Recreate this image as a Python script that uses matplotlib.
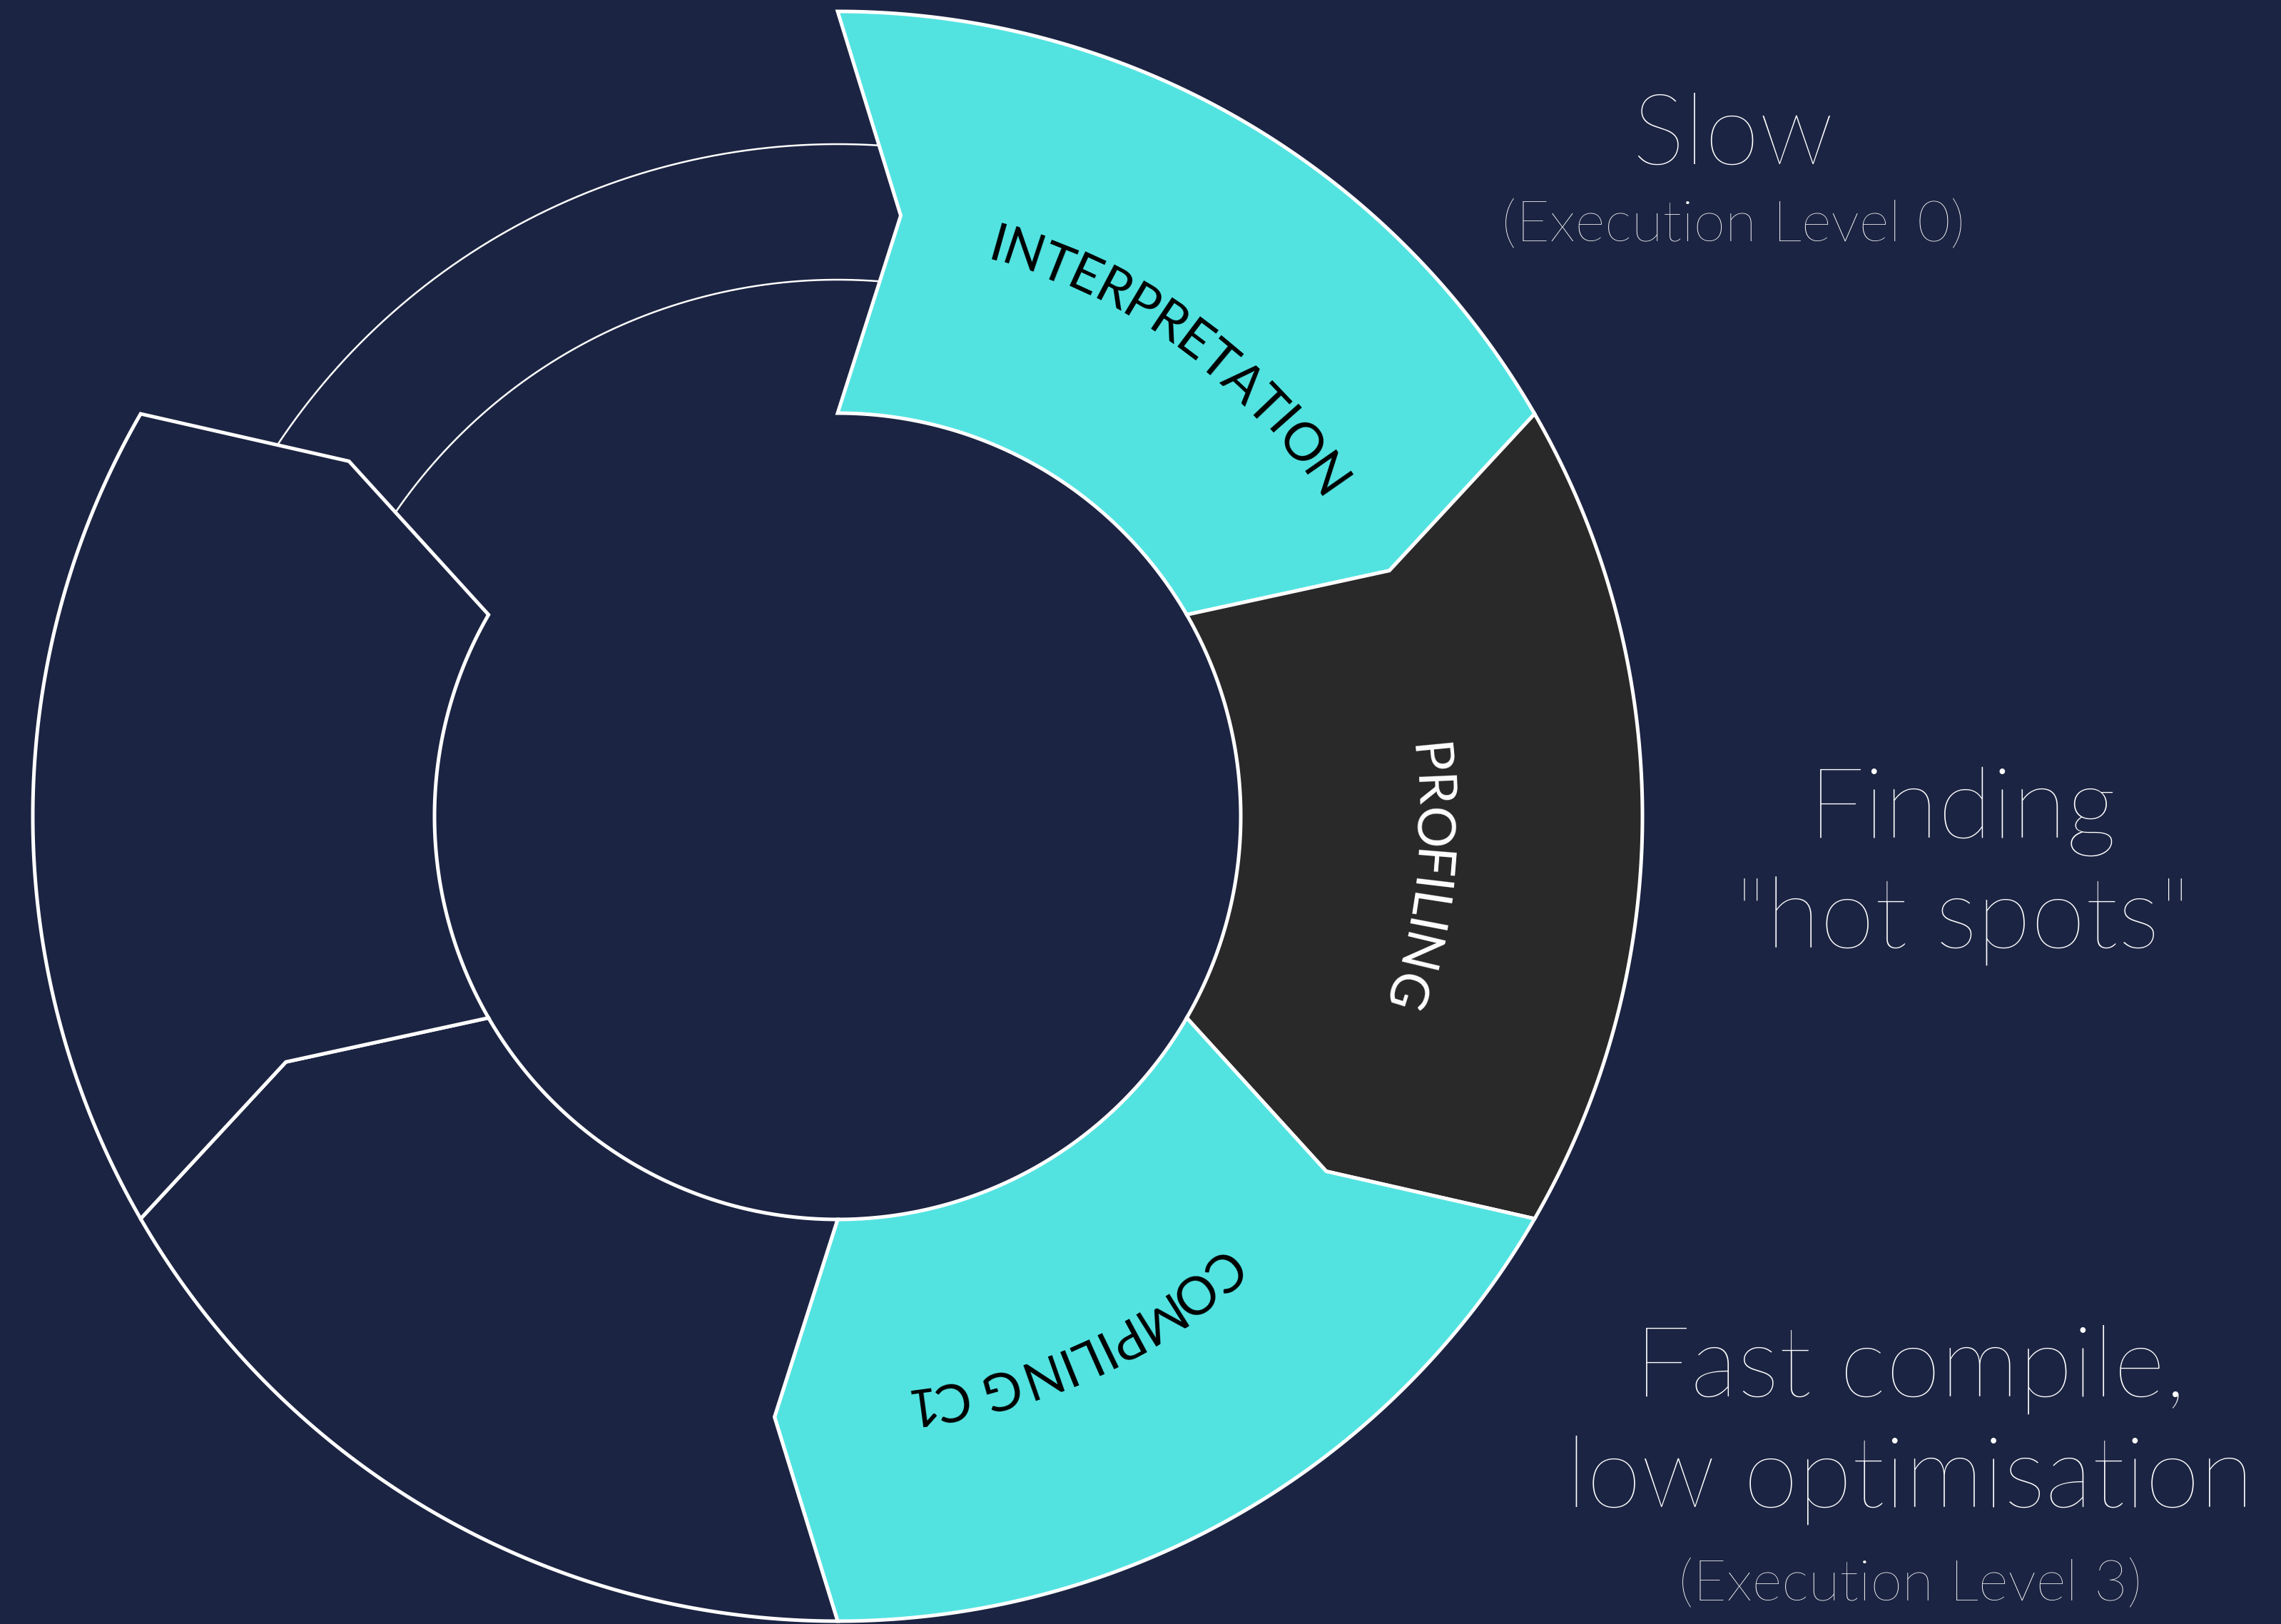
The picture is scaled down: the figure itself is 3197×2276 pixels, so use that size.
import numpy as np
import matplotlib.pyplot as plt
from matplotlib.patches import Polygon
from matplotlib.textpath import TextToPath
from matplotlib.font_manager import FontProperties

# stages of the ring, clockwise from the top
stage_names = ["INTERPRETATION", "PROFILING", "COMPILING C1", "", "", ""]
stage_share = [1, 1, 1, 1, 1, 1]
stage_colors = ["#52e3e1", "#292929", "#52e3e1", "#1b2442", "#1b2442", "#1b2442"]
label_colors = ["black", "white", "black", "white", "white", "white"]
stage_active = [True, True, True, True, True, False]

# notes on the right
side_titles = ["Slow", "Finding\n\"hot spots\"", "Fast compile,\nlow optimisation"]
side_notes = ["(Execution Level 0)", "", "(Execution Level 3)"]

BG = "#1b2442"
W, H = 3197, 2276
CX, CY = 1174, 2276 - 1144
R_IN, R_OUT = 565, 1128
TIP = 6.0

fig = plt.figure(figsize=(W / 100, H / 100), dpi=100)
fig.patch.set_facecolor(BG)
ax = fig.add_axes([0, 0, 1, 1])
ax.set_xlim(0, W)
ax.set_ylim(0, H)
ax.axis("off")


def xy(r, a):
    a = np.radians(a)
    return CX + r * np.cos(a), CY + r * np.sin(a)


def arrow_ring(a0, a1, r0, r1):
    rm = (r0 + r1) / 2
    pts = [xy(r1, a0), xy(rm, a0 - TIP), xy(r0, a0)]
    pts += [xy(r0, a) for a in np.linspace(a0, a1, 200)]
    pts += [xy(rm, a1 - TIP), xy(r1, a1)]
    pts += [xy(r1, a) for a in np.linspace(a1, a0, 200)]
    return np.array(pts)


ttp = TextToPath()


def curved_label(text, mid, r_mid, size, color):
    fp = FontProperties(family="Lato", weight="normal", size=size)
    px = fig.dpi / 72

    def wid(s):
        return ttp.get_text_width_height_descent(s, fp, ismath=False)[0] * px

    total = wid(text)
    cap = size * px * 0.72
    rb = r_mid - cap / 2
    for i, ch in enumerate(text):
        if ch == " ":
            continue
        c = wid(text[:i + 1]) - wid(ch) / 2
        ang = mid + np.degrees((total / 2 - c) / r_mid)
        x, y = xy(rb, ang)
        ax.text(x, y, ch, fontproperties=fp, color=color, rotation=ang - 90,
                rotation_mode="anchor", ha="center", va="baseline", zorder=5)


edges = 90 - np.concatenate([[0], np.cumsum(stage_share)]) * 360 / sum(stage_share)

for i, name in enumerate(stage_names):
    a0, a1 = edges[i], edges[i + 1]
    if stage_active[i]:
        poly = Polygon(arrow_ring(a0, a1, R_IN, R_OUT), closed=True,
                       facecolor=stage_colors[i], edgecolor="white", lw=3.6,
                       joinstyle="miter", zorder=2)
        ax.add_patch(poly)
    else:
        # pending stage: thin band, its ends hidden under the neighbours
        for r in (752, 942):
            a = np.linspace(a1 - 10, a0, 300)
            x, y = xy(r, a)
            ax.plot(x, y, color="white", lw=1.8, zorder=1)
    if name:
        curved_label(name, (a0 + a1) / 2 - TIP, 835, 53, label_colors[i])

thin = dict(family="Lato", weight=200, color="white", ha="center", va="baseline")
ax.text(2429, 2046, side_titles[0], fontsize=100, **thin)
ax.text(2429, 1938, side_notes[0], fontsize=58, **thin)
ax.text(2751, 1102, side_titles[1].split("\n")[0], fontsize=100, **thin)
ax.text(2751, 947, side_titles[1].split("\n")[1], fontsize=100, **thin)
ax.text(2677, 319, side_titles[2].split("\n")[0], fontsize=100, **thin)
ax.text(2677, 164, side_titles[2].split("\n")[1], fontsize=100, **thin)
ax.text(2677, 33, side_notes[2], fontsize=58, **thin)

fig.savefig("out.png", dpi=100, facecolor=BG)
